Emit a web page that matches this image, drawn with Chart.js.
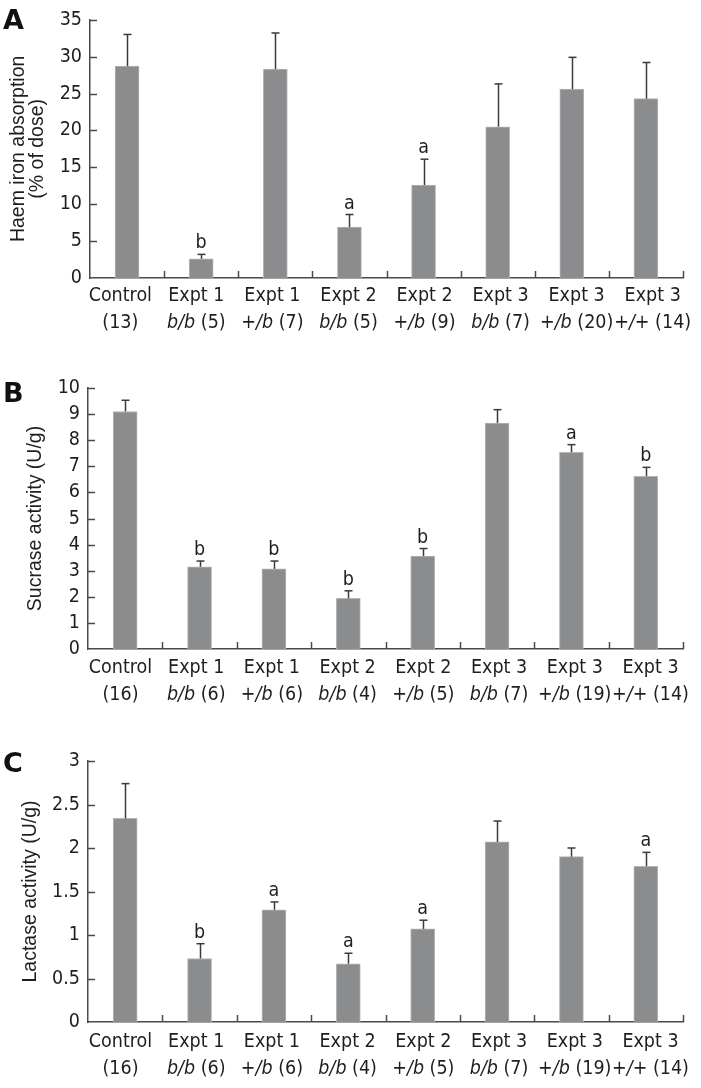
<!DOCTYPE html>
<html>
<head>
<meta charset="utf-8">
<script src="https://cdn.jsdelivr.net/npm/chart.js@4.4.0/dist/chart.umd.min.js"></script>
<style>
  html, body { margin: 0; padding: 0; background: #fff; }
  body { width: 701px; height: 1088px; position: relative; overflow: hidden; }
  canvas { position: absolute; left: 0; }
</style>
</head>
<body>
<canvas id="chartA" width="701" height="340" style="top:0px"></canvas>
<canvas id="chartB" width="701" height="360" style="top:345px"></canvas>
<canvas id="chartC" width="701" height="378" style="top:710px"></canvas>
<script>
// groups shared by all three panels
const groups = ['Control', 'Expt 1', 'Expt 1', 'Expt 2', 'Expt 2', 'Expt 3', 'Expt 3', 'Expt 3'];
const genotypes = ['', 'b/b', '+/b', 'b/b', '+/b', 'b/b', '+/b', '+/+'];

// A: haem iron absorption (% of dose)
const haemMean = [28.7, 2.6, 28.3, 6.9, 12.6, 20.5, 25.6, 24.3];
const haemSem  = [4.3, 0.6, 4.9, 1.7, 3.5, 5.8, 4.3, 4.9];
const haemN    = [13, 5, 7, 5, 9, 7, 20, 14];
const haemSig  = ['', 'b', '', 'a', 'a', '', '', ''];
const haemTicks = [0, 5, 10, 15, 20, 25, 30, 35];

// B: sucrase activity (U/g)
const sucraseMean = [9.1, 3.15, 3.07, 1.94, 3.56, 8.66, 7.54, 6.62];
const sucraseSem  = [0.43, 0.22, 0.30, 0.29, 0.29, 0.51, 0.29, 0.34];
const sucraseN    = [16, 6, 6, 4, 5, 7, 19, 14];
const sucraseSig  = ['', 'b', 'b', 'b', 'b', '', 'a', 'b'];
const sucraseTicks = [0, 1, 2, 3, 4, 5, 6, 7, 8, 9, 10];

// C: lactase activity (U/g)
const lactaseMean = [2.34, 0.73, 1.29, 0.67, 1.07, 2.07, 1.90, 1.79];
const lactaseSem  = [0.40, 0.17, 0.09, 0.12, 0.10, 0.24, 0.10, 0.16];
const lactaseN    = [16, 6, 6, 4, 5, 7, 19, 14];
const lactaseSig  = ['', 'b', 'a', 'a', 'a', '', '', 'a'];
const lactaseTicks = [0, 0.5, 1, 1.5, 2, 2.5, 3];

const BAR = '#8b8c8e';
const BAR_EDGE = '#b4b5b7';
const AXIS = '#4a4a4a';
const INK = '#1e1e1e';
const FS = 19.5;
const FONT = '"DejaVu Sans Condensed", "DejaVu Sans", sans-serif';

function line(ctx, x1, y1, x2, y2) {
  ctx.beginPath(); ctx.moveTo(x1, y1); ctx.lineTo(x2, y2); ctx.stroke();
}

// error bars, significance letters, inward ticks, two-line x labels, panel letter
const extras = {
  id: 'extras',
  afterDatasetsDraw(chart) {
    const o = chart.options.plugins.extras;
    const ctx = chart.ctx, y = chart.scales.y;
    const bars = chart.getDatasetMeta(0).data;
    ctx.save();
    ctx.strokeStyle = '#3a3a3a';
    ctx.lineWidth = 1.5;
    ctx.fillStyle = INK;
    ctx.font = FS + 'px ' + FONT;
    ctx.textAlign = 'center';
    ctx.textBaseline = 'alphabetic';
    bars.forEach((b, i) => {
      const mean = chart.data.datasets[0].data[i];
      const top = y.getPixelForValue(mean + o.sem[i]);
      const bx = Math.round(b.x) + 0.5;
      line(ctx, bx, b.y, bx, top);
      line(ctx, bx - 4, top, bx + 4, top);
      if (o.sig[i]) ctx.fillText(o.sig[i], b.x, top - 6);
    });
    ctx.restore();
  },
  afterDraw(chart) {
    const o = chart.options.plugins.extras;
    const ctx = chart.ctx, a = chart.chartArea;
    const x = chart.scales.x, y = chart.scales.y;
    ctx.save();
    ctx.strokeStyle = AXIS;
    ctx.lineWidth = 1.5;
    y.ticks.forEach(t => {
      const py = Math.round(y.getPixelForValue(t.value)) + 0.5;
      if (t.value !== 0) line(ctx, a.left, py, a.left + 7, py);
    });
    const n = groups.length;
    for (let i = 0; i < n; i++) {
      const bx = i < n - 1 ? (x.getPixelForValue(i) + x.getPixelForValue(i + 1)) / 2 : a.right;
      line(ctx, Math.round(bx) + 0.5, a.bottom, Math.round(bx) + 0.5, a.bottom - 7);
    }
    // x labels, slightly wider spaced than the bars
    const mid = (x.getPixelForValue(0) + x.getPixelForValue(n - 1)) / 2;
    const upright = FS + 'px ' + FONT;
    const italic = 'italic ' + FS + 'px ' + FONT;
    ctx.fillStyle = INK;
    ctx.textBaseline = 'alphabetic';
    groups.forEach((g, i) => {
      const cx = mid + (x.getPixelForValue(i) - mid) * o.spread;
      ctx.font = upright;
      ctx.textAlign = 'center';
      ctx.fillText(g, cx, a.bottom + o.line1);
      const geno = genotypes[i];
      const tail = (geno ? ' ' : '') + '(' + o.n[i] + ')';
      ctx.font = italic;
      const w1 = geno ? ctx.measureText(geno).width : 0;
      ctx.font = upright;
      const w2 = ctx.measureText(tail).width;
      const sx = cx - (w1 + w2) / 2;
      ctx.textAlign = 'left';
      if (geno) { ctx.font = italic; ctx.fillText(geno, sx, a.bottom + o.line2); }
      ctx.font = upright;
      ctx.fillText(tail, sx + w1, a.bottom + o.line2);
    });
    ctx.font = 'bold 27px "DejaVu Sans", sans-serif';
    ctx.textAlign = 'left';
    ctx.fillStyle = '#111';
    ctx.fillText(o.letter, 3, o.letterY);
    ctx.restore();
  }
};

function makePanel(id, p) {
  return new Chart(document.getElementById(id), {
    type: 'bar',
    data: {
      labels: groups,
      datasets: [{
        data: p.mean,
        backgroundColor: BAR,
        borderColor: BAR_EDGE,
        borderWidth: 1,
        barThickness: 24
      }]
    },
    options: {
      responsive: false,
      animation: false,
      devicePixelRatio: 1,
      layout: { padding: { top: p.padTop, right: 18, left: 0, bottom: 0 } },
      plugins: {
        legend: { display: false },
        tooltip: { enabled: false },
        extras: {
          sem: p.sem, sig: p.sig, n: p.n, letter: p.letter, letterY: p.letterY,
          spread: p.spread, line1: p.line1, line2: p.line2
        }
      },
      scales: {
        x: {
          grid: { display: false, drawTicks: false },
          ticks: { display: false },
          border: { display: true, color: AXIS, width: 1.5 },
          afterFit: s => { s.height = p.xHeight; }
        },
        y: {
          min: p.ticks[0],
          max: p.ticks[p.ticks.length - 1],
          afterBuildTicks: s => { s.ticks = p.ticks.map(v => ({ value: v })); },
          ticks: {
            autoSkip: false,
            padding: 8,
            color: INK,
            font: { family: FONT, size: FS },
            callback: v => String(v)
          },
          grid: { display: false, drawTicks: false },
          border: { display: true, color: AXIS, width: 1.5 },
          title: {
            display: true,
            text: p.title,
            color: INK,
            font: { family: '"Liberation Sans", Arial, sans-serif', size: 19.5, lineHeight: 1 },
            padding: { top: p.titlePad, bottom: 0 }
          },
          afterFit: s => { s.width = p.yWidth; }
        }
      }
    },
    plugins: [extras]
  });
}

makePanel('chartA', {
  mean: haemMean, sem: haemSem, n: haemN, sig: haemSig, ticks: haemTicks,
  title: ['Haem iron absorption', '(% of dose)'], titlePad: 8.5,
  letter: 'A', letterY: 29, padTop: 16, xHeight: 62, yWidth: 90,
  spread: 1.026, line1: 23, line2: 50
});
makePanel('chartB', {
  mean: sucraseMean, sem: sucraseSem, n: sucraseN, sig: sucraseSig, ticks: sucraseTicks,
  title: 'Sucrase activity (U/g)', titlePad: 26,
  letter: 'B', letterY: 57, padTop: 43, xHeight: 56, yWidth: 88,
  spread: 1.018, line1: 24, line2: 51
});
makePanel('chartC', {
  mean: lactaseMean, sem: lactaseSem, n: lactaseN, sig: lactaseSig, ticks: lactaseTicks,
  title: 'Lactase activity (U/g)', titlePad: 21,
  letter: 'C', letterY: 62, padTop: 51, xHeight: 66, yWidth: 88,
  spread: 1.018, line1: 25, line2: 52
});
</script>
</body>
</html>
